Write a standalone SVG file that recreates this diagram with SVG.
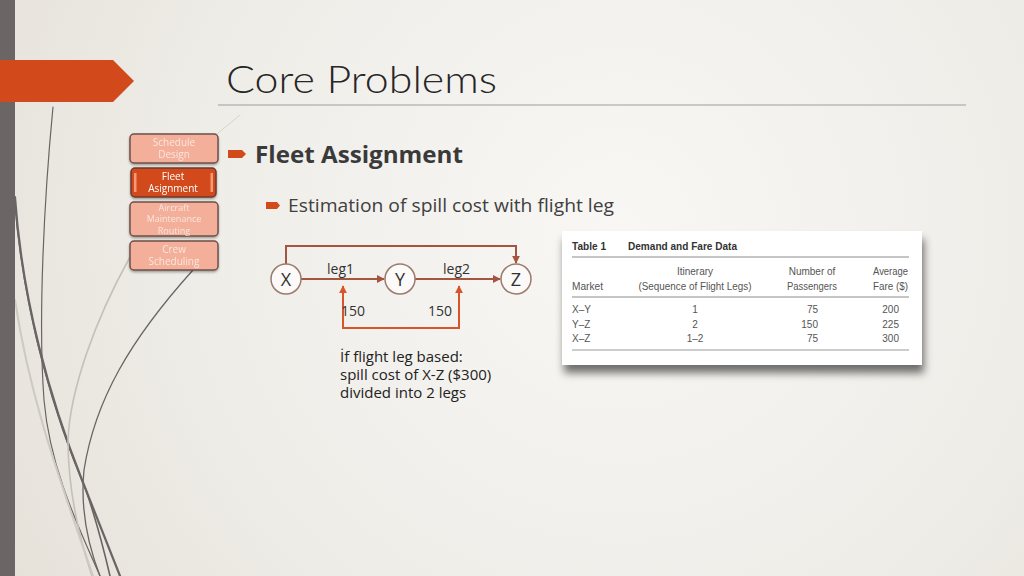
<svg xmlns="http://www.w3.org/2000/svg" width="1024" height="576" viewBox="0 0 1024 576">
<defs>
  <radialGradient id="bg" cx="620" cy="230" r="700" gradientUnits="userSpaceOnUse">
    <stop offset="0" stop-color="#f8f7f4"/>
    <stop offset="0.6" stop-color="#efede8"/>
    <stop offset="1" stop-color="#e6e2da"/>
  </radialGradient>
  <filter id="shadow" x="-10%" y="-20%" width="120%" height="150%">
    <feGaussianBlur in="SourceAlpha" stdDeviation="4"/>
    <feOffset dx="2" dy="8" result="b"/>
    <feComponentTransfer><feFuncA type="linear" slope="0.55"/></feComponentTransfer>
    <feMerge><feMergeNode/><feMergeNode in="SourceGraphic"/></feMerge>
  </filter>
  <filter id="boxsh" x="-10%" y="-10%" width="120%" height="130%">
    <feDropShadow dx="0" dy="1.5" stdDeviation="1" flood-color="#000" flood-opacity="0.35"/>
  </filter>
  <marker id="ah" viewBox="0 0 10 10" refX="9" refY="5" markerWidth="8" markerHeight="8" markerUnits="userSpaceOnUse" orient="auto-start-reverse">
    <path d="M0,0 L10,5 L0,10 z" fill="#a4553f"/>
  </marker>
  <marker id="ahr" viewBox="0 0 10 10" refX="9" refY="5" markerWidth="8" markerHeight="8" markerUnits="userSpaceOnUse" orient="auto-start-reverse">
    <path d="M0,0 L10,5 L0,10 z" fill="#d9532b"/>
  </marker>
  <style>
    .side{fill:#f3af99;stroke:#6e5049;stroke-width:1.5}
    .sidet{font-family:"Open Sans","Liberation Sans",sans-serif;font-size:10px;fill:#fbe6dd;text-anchor:middle}
    .sides{font-size:9px}
    .node{fill:#fbfaf8;stroke:#9c7a6e;stroke-width:1.5}
    .nodet{font-family:"Open Sans","Liberation Sans",sans-serif;font-size:18px;fill:#333;text-anchor:middle}
    .lbl{font-family:"Open Sans","Liberation Sans",sans-serif;font-size:14px;fill:#333}
    .conn{fill:none;stroke:#a4553f;stroke-width:2}
    .connr{fill:none;stroke:#d9532b;stroke-width:2}
    .tb{font-family:"Liberation Sans",sans-serif;font-size:10px;fill:#555}
    .tbb{font-family:"Liberation Sans",sans-serif;font-size:10px;font-weight:bold;fill:#333}
    .mid{text-anchor:middle}
    .end{text-anchor:end}
  </style>
</defs>

<rect width="1024" height="576" fill="url(#bg)"/>

<!-- decorative curves -->
<g fill="none" stroke-linecap="round">
  <path d="M53,107 C44,200 38,320 44,400 C50,470 80,530 100,576" stroke="#6a6465" stroke-width="1.2"/>
  <path d="M15,197 C22,300 50,400 82,480 C98,520 110,550 120,576" stroke="#6a6465" stroke-width="2.2"/>
  <path d="M15,205 C25,320 56,420 86,490 C96,520 104,550 110,576" stroke="#6a6465" stroke-width="1.6"/>
  <path d="M193,270 C130,340 95,400 84,470 C80,510 88,545 100,576" stroke="#6a6465" stroke-width="1.3"/>
  <path d="M130,257 C95,320 70,390 68,440 C68,490 80,540 92,576" stroke="#c4c0ba" stroke-width="1.6"/>
  <path d="M15,300 C30,400 60,480 93,576" stroke="#cdc9c3" stroke-width="2"/>
  <path d="M240,115 L212,138" stroke="#d8d4ce" stroke-width="1"/>
</g>

<!-- left bar and banner -->
<rect x="0" y="0" width="15" height="576" fill="#6b6566"/>
<path d="M0,60 H113 L134,81 L113,102 H0 Z" fill="#d24a1c"/>

<!-- title -->
<text x="226" y="93" font-family="Lato,'Noto Sans',sans-serif" font-weight="300" font-size="38" fill="#262626" textLength="271" lengthAdjust="spacingAndGlyphs">Core Problems</text>
<line x1="218" y1="105" x2="966" y2="105" stroke="#9e9e9e" stroke-width="1.2"/>

<!-- side menu -->
<g id="menu-schedule" filter="url(#boxsh)">
  <rect class="side" x="130" y="134" width="88" height="29" rx="4"/>
  <text class="sidet" x="174" y="146">Schedule</text>
  <text class="sidet" x="174" y="158">Design</text>
</g>
<g id="menu-fleet" filter="url(#boxsh)">
  <rect x="131" y="168" width="85" height="29" rx="4" fill="#d24a1c" stroke="#6e3a2c" stroke-width="1.5"/>
  <rect x="134" y="173" width="2.5" height="19" fill="#f59a78"/>
  <rect x="210.5" y="173" width="2.5" height="19" fill="#f59a78"/>
  <text class="sidet" x="173" y="180" style="fill:#fff">Fleet</text>
  <text class="sidet" x="173" y="192" style="fill:#fff">Asignment</text>
</g>
<g id="menu-aircraft" filter="url(#boxsh)">
  <rect class="side" x="130" y="202" width="88" height="34" rx="4"/>
  <text class="sidet sides" x="174" y="210.5">Aircraft</text>
  <text class="sidet sides" x="174" y="222">Maintenance</text>
  <text class="sidet sides" x="174" y="233.5">Routing</text>
</g>
<g id="menu-crew" filter="url(#boxsh)">
  <rect class="side" x="130" y="241" width="88" height="29" rx="4"/>
  <text class="sidet" x="174" y="253">Crew</text>
  <text class="sidet" x="174" y="265">Scheduling</text>
</g>

<!-- bullets -->
<path d="M228,150 H242 L246,154 L242,158 H228 Z" fill="#d24a1c"/>
<text x="255" y="163" font-family="'Open Sans','Noto Sans',sans-serif" font-weight="bold" font-size="23" fill="#3a3a3a" textLength="208" lengthAdjust="spacingAndGlyphs">Fleet Assignment</text>
<path d="M266,202 H277 L280,205.5 L277,209 H266 Z" fill="#d24a1c"/>
<text x="288" y="212" font-family="'Open Sans','Noto Sans',sans-serif" font-size="18" fill="#404040" textLength="326" lengthAdjust="spacingAndGlyphs">Estimation of spill cost with flight leg</text>

<!-- connectors -->
<g id="connectors">
  <path class="conn" d="M301,279 H384" marker-end="url(#ah)"/>
  <path class="conn" d="M415,279 H500" marker-end="url(#ah)"/>
  <path class="conn" d="M286,264 V246 H516 V263" marker-end="url(#ah)"/>
  <path class="connr" d="M343,286 V328 H459 V286" marker-start="url(#ahr)" marker-end="url(#ahr)"/>
  <text class="lbl" x="327" y="274">leg1</text>
  <text class="lbl" x="443" y="274">leg2</text>
  <text class="lbl" x="341" y="316">150</text>
  <text class="lbl" x="428" y="316">150</text>
</g>

<!-- nodes -->
<g id="node-X"><circle class="node" cx="286" cy="279" r="15"/><text class="nodet" x="286" y="285.5">X</text></g>
<g id="node-Y"><circle class="node" cx="400" cy="279" r="15"/><text class="nodet" x="400" y="285.5">Y</text></g>
<g id="node-Z"><circle class="node" cx="516" cy="279" r="15"/><text class="nodet" x="516" y="285.5">Z</text></g>

<!-- note -->
<g font-family="'Open Sans','Noto Sans',sans-serif" font-size="15" fill="#222">
  <text x="340" y="362">İf flight leg based:</text>
  <text x="340" y="380">spill cost of X-Z ($300)</text>
  <text x="340" y="398">divided into 2 legs</text>
</g>

<!-- table -->
<g id="table">
  <rect x="562" y="231" width="360" height="134" fill="#ffffff" filter="url(#shadow)"/>
  <text class="tbb" x="572" y="250" textLength="34" lengthAdjust="spacingAndGlyphs">Table 1</text>
  <text class="tbb" x="628" y="250" textLength="109" lengthAdjust="spacingAndGlyphs">Demand and Fare Data</text>
  <line x1="572" y1="257" x2="909" y2="257" stroke="#8a8a8a" stroke-width="1"/>
  <text class="tb" x="572" y="290" textLength="31" lengthAdjust="spacingAndGlyphs">Market</text>
  <text class="tb mid" x="695" y="275">Itinerary</text>
  <text class="tb mid" x="695" y="290" textLength="113" lengthAdjust="spacingAndGlyphs">(Sequence of Flight Legs)</text>
  <text class="tb mid" x="812" y="275">Number of</text>
  <text class="tb mid" x="812" y="290" textLength="50" lengthAdjust="spacingAndGlyphs">Passengers</text>
  <text class="tb end" x="908" y="275" textLength="35" lengthAdjust="spacingAndGlyphs">Average</text>
  <text class="tb end" x="908" y="290" textLength="35" lengthAdjust="spacingAndGlyphs">Fare ($)</text>
  <line x1="572" y1="297" x2="909" y2="297" stroke="#8a8a8a" stroke-width="1"/>
  <text class="tb" x="572" y="313">X–Y</text>
  <text class="tb" x="572" y="328">Y–Z</text>
  <text class="tb" x="572" y="342">X–Z</text>
  <text class="tb mid" x="695" y="313">1</text>
  <text class="tb mid" x="695" y="328">2</text>
  <text class="tb mid" x="695" y="342">1–2</text>
  <text class="tb end" x="818" y="313">75</text>
  <text class="tb end" x="818" y="328">150</text>
  <text class="tb end" x="818" y="342">75</text>
  <text class="tb end" x="899" y="313">200</text>
  <text class="tb end" x="899" y="328">225</text>
  <text class="tb end" x="899" y="342">300</text>
  <line x1="572" y1="350" x2="909" y2="350" stroke="#9a9a9a" stroke-width="1"/>
</g>
</svg>
